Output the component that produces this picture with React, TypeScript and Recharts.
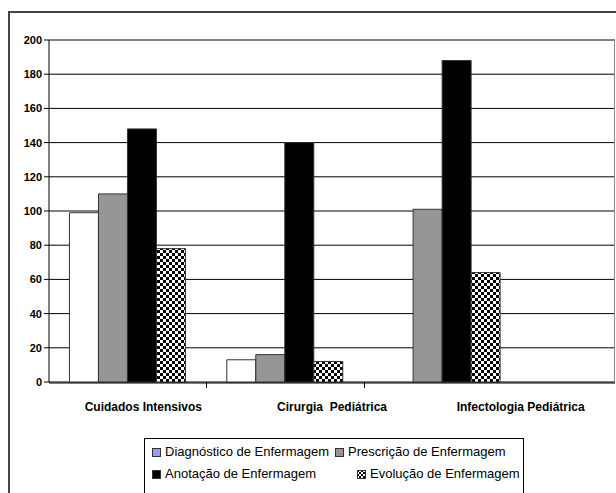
import { BarChart, Bar, XAxis, YAxis, CartesianGrid, Legend, ReferenceLine } from "recharts";

const categories = ["Cuidados Intensivos", "Cirurgia  Pediátrica", "Infectologia Pediátrica"];
const diagnostico = [99, 13, 0];
const prescricao = [110, 16, 101];
const anotacao = [148, 140, 188];
const evolucao = [78, 12, 64];
const yTicks = [0, 20, 40, 60, 80, 100, 120, 140, 160, 180, 200];

const series = [
  { key: "diag", name: "Diagnóstico de Enfermagem", fill: "#ffffff", swatch: "#9999ff" },
  { key: "presc", name: "Prescrição de Enfermagem", fill: "#969696", swatch: "#969696" },
  { key: "anot", name: "Anotação de Enfermagem", fill: "#000000", swatch: "#000000" },
  { key: "evol", name: "Evolução de Enfermagem", fill: "url(#checker)", swatch: "url(#checkerSmall)" },
];

const data = categories.map((c, i) => ({
  cat: c,
  diag: diagnostico[i],
  presc: prescricao[i],
  anot: anotacao[i],
  evol: evolucao[i],
}));

const axisFont = "'Liberation Sans', Arial, sans-serif";

// small tick marks between categories, like Excel does
function BoundaryTick(props: any) {
  const { x, y, payload, index } = props;
  const off = payload && payload.offset != null ? payload.offset : props.bandSize / 2;
  if (!index || !isFinite(off)) return <g />;
  const bx = Math.round(x - off) + 0.5;
  return <line x1={bx} x2={bx} y1={y} y2={y + 6} stroke="#000" strokeWidth={1} />;
}

function CatTick(props: any) {
  const { x, y, payload } = props;
  return (
    <text
      x={x}
      y={y}
      dy="0.71em"
      textAnchor="middle"
      fontFamily={axisFont}
      fontWeight="bold"
      fontSize={12}
      fill="#000"
      style={{ whiteSpace: "pre" }}
    >
      {payload.value}
    </text>
  );
}

function Swatch({ fill }: { fill: string }) {
  return (
    <svg width={9} height={9} style={{ marginRight: 4, flex: "none" }}>
      <defs>
        <pattern id="checkerSmall" width="4" height="4" patternUnits="userSpaceOnUse">
          <rect width="4" height="4" fill="#fff" />
          <rect width="2" height="2" fill="#000" />
          <rect x="2" y="2" width="2" height="2" fill="#000" />
        </pattern>
      </defs>
      <rect x={0.5} y={0.5} width={8} height={8} fill={fill} stroke="#333" />
    </svg>
  );
}

function LegendBox() {
  const rows = [
    [series[0], series[1]],
    [series[2], series[3]],
  ];
  const firstColWidth = [183, 205];
  return (
    <div
      style={{
        border: "1px solid #000",
        padding: "2px 0 10px 7px",
        fontFamily: axisFont,
        fontSize: 13,
        lineHeight: "22px",
        color: "#000",
        background: "#fff",
      }}
    >
      {rows.map((row, r) => (
        <div key={r} style={{ display: "flex", alignItems: "center" }}>
          {row.map((s, c) => (
            <div
              key={s.key}
              style={{
                display: "flex",
                alignItems: "center",
                width: c === 0 ? firstColWidth[r] : undefined,
                whiteSpace: "nowrap",
              }}
            >
              <Swatch fill={s.swatch} />
              <span>{s.name}</span>
            </div>
          ))}
        </div>
      ))}
    </div>
  );
}

export default function App() {
  return (
    <>
      <style>{`body{margin:0;overflow:hidden;background:#fff}`}</style>
      <div
        style={{
          position: "absolute",
          left: 8,
          top: 11,
          width: 606,
          height: 480,
          borderTop: "2px solid #444",
          borderLeft: "2px solid #444",
        }}
      >
        <BarChart
          width={606}
          height={480}
          data={data}
          margin={{ top: 27, right: 1, left: 9, bottom: 81 }}
          barCategoryGap="13%"
          barGap={0}
        >
          <defs>
            <pattern id="checker" width="6" height="6" patternUnits="userSpaceOnUse">
              <rect width="6" height="6" fill="#fff" />
              <rect width="3" height="3" fill="#000" />
              <rect x="3" y="3" width="3" height="3" fill="#000" />
            </pattern>
          </defs>
          <CartesianGrid xAxisId="lab" vertical={false} stroke="#000" />
          <CartesianGrid
            xAxisId="lab"
            horizontal={false}
            stroke="#888"
            verticalCoordinatesGenerator={({ offset }: any) => [offset.left + offset.width - 0.5]}
          />
          <XAxis
            xAxisId="bars"
            dataKey="cat"
            height={1}
            padding={{ left: 0, right: 94 }}
            axisLine={false}
            tickLine={false}
            tickSize={0}
            tickMargin={0}
            tick={<BoundaryTick bandSize={157} />}
            interval={0}
          />
          <XAxis
            xAxisId="lab"
            dataKey="cat"
            height={29}
            axisLine={{ stroke: "#000" }}
            tickLine={false}
            tickSize={0}
            tickMargin={19}
            tick={<CatTick />}
            interval={0}
          />
          <YAxis
            domain={[0, 200]}
            ticks={yTicks}
            width={30}
            axisLine={{ stroke: "#000" }}
            tickLine={{ stroke: "#000" }}
            tickSize={5}
            tickMargin={2}
            interval={0}
            tick={{ fontFamily: axisFont, fontWeight: "bold", fontSize: 11, fill: "#000" }}
          />
          <ReferenceLine xAxisId="lab" y={200} stroke="#888" />
          {series.map((s) => (
            <Bar
              key={s.key}
              xAxisId="bars"
              dataKey={s.key}
              name={s.name}
              fill={s.fill}
              stroke="#333"
              strokeWidth={1}
              isAnimationActive={false}
            />
          ))}
          <Legend
            layout="horizontal"
            verticalAlign="middle"
            align="center"
            content={() => <LegendBox />}
            wrapperStyle={{ position: "absolute", left: 134, top: 425, width: 380 }}
          />
        </BarChart>
      </div>
    </>
  );
}
